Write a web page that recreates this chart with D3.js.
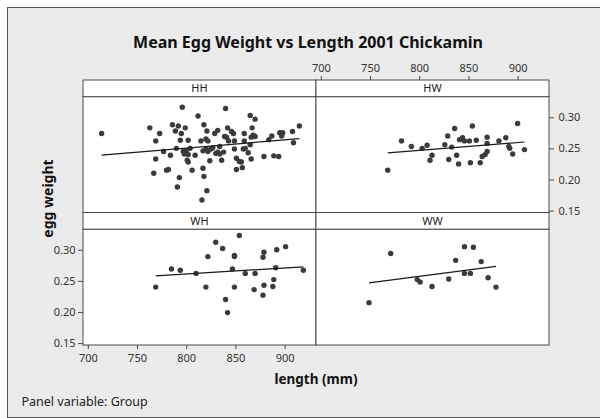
<!DOCTYPE html>
<html>
<head>
<meta charset="utf-8">
<script src="https://cdn.jsdelivr.net/npm/d3@7"></script>
<style>
  body { margin: 0; background: #fff; }
  svg { display: block; }
  text { font-family: "Noto Sans", "DejaVu Sans", sans-serif; }
</style>
</head>
<body>
<svg id="chart" width="600" height="418"></svg>
<script>
// Panel variable levels
const groups = ["HH", "HW", "WH", "WW"];

// Female length (mm) and mean egg weight per group
const hhLength = [714, 796, 840, 812, 865, 870, 763, 773, 786, 792, 799, 795, 789, 818, 821,
  769, 794, 802, 815, 820, 822, 829, 832, 842, 846, 848, 839, 841, 843, 849, 859, 867,
  868, 866, 870, 859, 865, 887, 884, 895, 897, 898, 897, 908, 915, 909,
  777, 784, 790, 797, 798, 800, 804, 802, 809,
  817, 820, 822, 825, 827, 830, 832, 834, 834, 838, 849,
  851, 854, 856, 858, 860, 863, 866, 879, 889, 894,
  769, 801, 802, 824, 836, 851, 857, 780, 782, 767, 806, 817, 793, 818, 791, 821, 816];
const hhWeight = [0.274, 0.316, 0.314, 0.302, 0.303, 0.297, 0.283, 0.274, 0.288, 0.286, 0.283, 0.274, 0.278, 0.288, 0.278,
  0.262, 0.263, 0.263, 0.262, 0.265, 0.262, 0.274, 0.279, 0.283, 0.277, 0.274, 0.269, 0.268, 0.262, 0.262, 0.274, 0.283,
  0.271, 0.268, 0.269, 0.262, 0.256, 0.270, 0.264, 0.275, 0.272, 0.275, 0.270, 0.277, 0.286, 0.259,
  0.245, 0.239, 0.250, 0.245, 0.241, 0.246, 0.250, 0.240, 0.239,
  0.246, 0.249, 0.245, 0.249, 0.251, 0.242, 0.244, 0.253, 0.241, 0.244, 0.249,
  0.234, 0.229, 0.228, 0.249, 0.250, 0.243, 0.233, 0.237, 0.238, 0.237,
  0.233, 0.231, 0.228, 0.230, 0.231, 0.216, 0.219, 0.215, 0.216, 0.210, 0.215, 0.218, 0.203, 0.205, 0.188, 0.182, 0.167];

const hwLength = [768, 782, 792, 803, 808, 811, 813, 826, 829, 830, 833, 836, 838, 840, 841, 844, 846,
  851, 852, 854, 858, 862, 864, 867, 869, 869, 869, 881, 888, 891, 892, 895, 900, 907];
const hwWeight = [0.215, 0.262, 0.253, 0.250, 0.255, 0.231, 0.239, 0.256, 0.270, 0.232, 0.252, 0.282, 0.239, 0.225, 0.264, 0.267, 0.262,
  0.262, 0.227, 0.286, 0.263, 0.227, 0.237, 0.240, 0.268, 0.258, 0.245, 0.262, 0.267, 0.253, 0.250, 0.241, 0.290, 0.248];

const whLength = [769, 785, 794, 810, 820, 822, 830, 837, 840, 842, 847, 849, 849, 849, 854,
  860, 869, 870, 878, 879, 878, 879, 888, 889, 891, 892, 901, 919];
const whWeight = [0.240, 0.269, 0.267, 0.262, 0.240, 0.289, 0.312, 0.302, 0.220, 0.199, 0.269, 0.291, 0.289, 0.240, 0.323,
  0.262, 0.236, 0.262, 0.288, 0.296, 0.227, 0.243, 0.241, 0.252, 0.271, 0.300, 0.305, 0.267];

const wwLength = [749, 771, 798, 801, 813, 830, 837, 846, 855, 846, 852, 863, 870, 878];
const wwWeight = [0.215, 0.294, 0.252, 0.248, 0.241, 0.253, 0.283, 0.305, 0.304, 0.262, 0.262, 0.281, 0.255, 0.240];

// Fitted regression lines (intercept, slope) per group
const fitIntercept = [0.1457, 0.1469, 0.1836, 0.0917];
const fitSlope = [0.000131, 0.000125, 0.0000969, 0.000207];

const xTicks = [700, 750, 800, 850, 900];
const yTicks = [0.15, 0.20, 0.25, 0.30];

const lengths = [hhLength, hwLength, whLength, wwLength];
const weights = [hhWeight, hwWeight, whWeight, wwWeight];

// ---- layout ----
const gridLeft = 83, colW = 233;
const gridTop = 80, stripH = 16.8, panelH = 115.7;
const ink = "#4a4a4a";

const svg = d3.select("#chart");

// Outer gray frame
svg.append("rect")
  .attr("x", 7.5).attr("y", 7.5)
  .attr("width", 610).attr("height", 410)
  .attr("fill", "#ebebeb").attr("stroke", "#555").attr("stroke-width", 1);

svg.append("text")
  .attr("x", 308).attr("y", 48)
  .attr("text-anchor", "middle")
  .attr("font-size", 16).attr("font-weight", "bold").attr("fill", "#111")
  .text("Mean Egg Weight vs Length 2001 Chickamin");

const x = d3.scaleLinear().domain([695.1, 695.1 + colW / 0.984]).range([0, colW]);
const y = d3.scaleLinear().domain([0.1469, 0.3329]).range([panelH, 0]);

groups.forEach((g, i) => {
  const col = i % 2, row = Math.floor(i / 2);
  const x0 = gridLeft + col * colW;
  const y0 = gridTop + row * (stripH + panelH);
  const cell = svg.append("g").attr("transform", `translate(${x0},${y0})`);

  // strip
  cell.append("rect")
    .attr("width", colW).attr("height", stripH)
    .attr("fill", "#fff").attr("stroke", ink).attr("stroke-width", 1);
  cell.append("text")
    .attr("x", colW / 2).attr("y", stripH / 2 + 4)
    .attr("text-anchor", "middle").attr("font-size", 11).attr("fill", "#222")
    .text(g);

  // panel
  const panel = cell.append("g").attr("transform", `translate(0,${stripH})`);
  panel.append("rect")
    .attr("width", colW).attr("height", panelH)
    .attr("fill", "#fff").attr("stroke", ink).attr("stroke-width", 1);

  const pts = lengths[i].map((v, k) => ({ len: v, wt: weights[i][k] }));
  panel.selectAll("circle").data(pts).join("circle")
    .attr("cx", d => x(d.len)).attr("cy", d => y(d.wt))
    .attr("r", 2.7).attr("fill", "#3b3b3b");

  const [lo, hi] = d3.extent(lengths[i]);
  const fit = v => fitIntercept[i] + fitSlope[i] * v;
  panel.append("line")
    .attr("x1", x(lo)).attr("y1", y(fit(lo)))
    .attr("x2", x(hi)).attr("y2", y(fit(hi)))
    .attr("stroke", "#1a1a1a").attr("stroke-width", 1.2);

  const styleAxis = sel => {
    sel.select(".domain").remove();
    sel.selectAll(".tick line").attr("stroke", ink);
    sel.selectAll(".tick text").attr("fill", "#333")
      .attr("font-family", "'Noto Sans', sans-serif").attr("font-size", 11);
  };

  if (i === 1) {
    cell.append("g")
      .call(d3.axisTop(x).tickValues(xTicks).tickFormat(d3.format("d")).tickSize(4).tickPadding(4.5))
      .call(styleAxis);
    panel.append("g").attr("transform", `translate(${colW},0)`)
      .call(d3.axisRight(y).tickValues(yTicks).tickFormat(d3.format(".2f")).tickSize(5).tickPadding(4.5))
      .call(styleAxis);
  }
  if (i === 2) {
    panel.append("g").attr("transform", `translate(0,${panelH})`)
      .call(d3.axisBottom(x).tickValues(xTicks).tickFormat(d3.format("d")).tickSize(4).tickPadding(5.5))
      .call(styleAxis);
    panel.append("g")
      .call(d3.axisLeft(y).tickValues(yTicks).tickFormat(d3.format(".2f")).tickSize(5).tickPadding(2.5))
      .call(styleAxis);
  }
});

// Axis titles
svg.append("text")
  .attr("transform", "translate(47,198.5) rotate(-90)")
  .attr("text-anchor", "middle").attr("dominant-baseline", "central")
  .attr("font-size", 14).attr("font-weight", "bold").attr("fill", "#111")
  .text("egg weight");

svg.append("text")
  .attr("x", gridLeft + colW).attr("y", 384)
  .attr("text-anchor", "middle")
  .attr("font-size", 13.5).attr("font-weight", "bold").attr("fill", "#111")
  .text("length (mm)");

svg.append("text")
  .attr("x", 21.5).attr("y", 405.5)
  .attr("font-size", 12.5).attr("fill", "#222")
  .text("Panel variable: Group");
</script>
</body>
</html>
